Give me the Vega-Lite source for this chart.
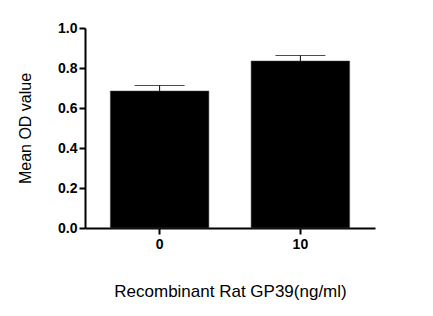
{
  "$schema": "https://vega.github.io/schema/vega-lite/v6.json",
  "width": 290,
  "height": 200,
  "autosize": {"type": "none"},
  "padding": {"left": 85, "top": 28, "right": 58, "bottom": 88},
  "background": "white",
  "config": {
    "view": {"stroke": null},
    "font": "Liberation Sans",
    "axis": {
      "domainColor": "black",
      "domainWidth": 2,
      "tickColor": "black",
      "tickWidth": 2,
      "tickSize": 6,
      "grid": false,
      "labelColor": "black",
      "labelFont": "Liberation Sans",
      "labelFontWeight": "bold",
      "labelFontSize": 14,
      "labelOverlap": false,
      "titleColor": "black",
      "titleFont": "Liberation Sans",
      "titleFontWeight": "normal",
      "titleFontSize": 16
    }
  },
  "data": {
    "values": [
      {"dose": "0", "mean": 0.685, "upper": 0.713},
      {"dose": "10", "mean": 0.835, "upper": 0.862}
    ]
  },
  "encoding": {
    "x": {
      "field": "dose",
      "type": "nominal",
      "sort": null,
      "scale": {"paddingInner": 0.3, "paddingOuter": 0.18},
      "axis": {
        "title": "Recombinant Rat GP39(ng/ml)",
        "labelAngle": 0,
        "labelPadding": 3,
        "titleFontSize": 17,
        "titlePadding": 32
      }
    },
    "y": {
      "field": "mean",
      "type": "quantitative",
      "scale": {"domain": [0, 1], "nice": false},
      "axis": {
        "title": "Mean OD value",
        "values": [0, 0.2, 0.4, 0.6, 0.8, 1],
        "tickCount": 6,
        "format": ".1f",
        "labelPadding": 2,
        "labelOverlap": false,
        "labelFlush": false,
        "titlePadding": 24
      }
    }
  },
  "layer": [
    {
      "mark": {"type": "bar", "color": "black", "stroke": "#444", "strokeWidth": 0.5}
    },
    {
      "mark": {"type": "rule", "color": "black", "strokeWidth": 1},
      "encoding": {
        "y2": {"field": "upper"}
      }
    },
    {
      "mark": {"type": "tick", "color": "black", "size": 50, "thickness": 1},
      "encoding": {
        "y": {"field": "upper", "type": "quantitative", "title": "Mean OD value"}
      }
    }
  ]
}
